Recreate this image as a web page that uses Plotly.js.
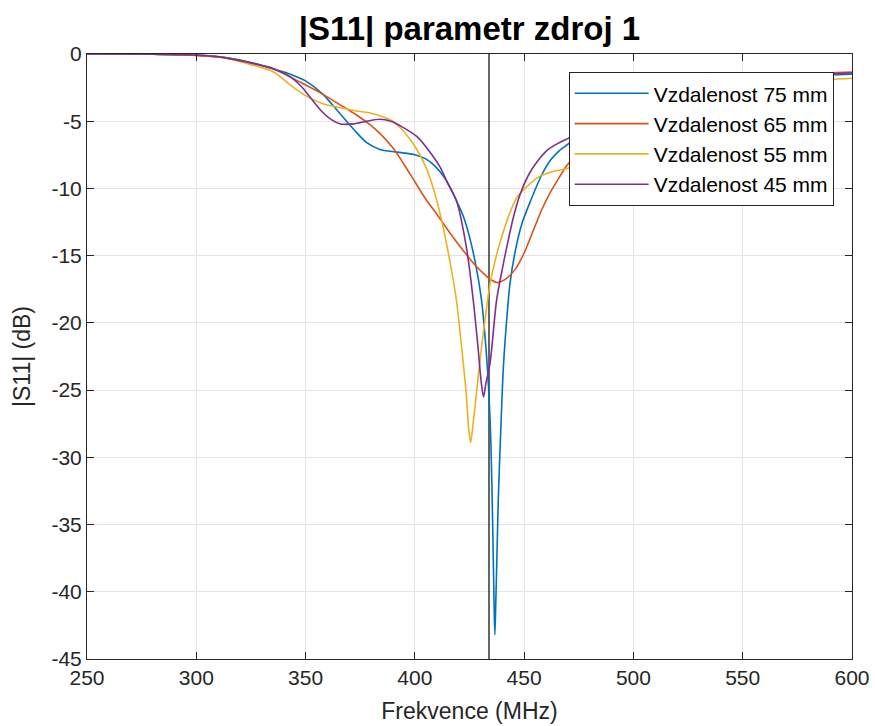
<!DOCTYPE html>
<html>
<head>
<meta charset="utf-8">
<script src="https://cdn.plot.ly/plotly-3.0.1.min.js"></script>
<style>html,body{margin:0;padding:0;background:#fff;}#chart{width:875px;height:726px;}</style>
</head>
<body>
<div id="chart"></div>
<script>
// Series names
const seriesNames = ["Vzdalenost 75 mm", "Vzdalenost 65 mm", "Vzdalenost 55 mm", "Vzdalenost 45 mm"];

// Vzdalenost 75 mm
const freq75 = [250,280,300,315,327,335,343,350,358,365,372,378,384,392,400,405,409,414,419,422,425,428,430.5,432.5,433.8,434.8,435.6,436.2,436.6,437,437.6,438.2,439.3,440.5,442,443.5,446,449,453,458,462,466,471,480,490,500,520,540,560,580,600];
const s11_75 = [0,-0.02,-0.08,-0.3,-0.7,-1.1,-1.5,-2.0,-3.0,-4.3,-5.6,-6.6,-7.1,-7.3,-7.5,-7.8,-8.3,-9.3,-10.9,-12.0,-13.6,-15.8,-18.3,-21.8,-25,-29,-35,-40.5,-43.2,-41,-37,-33,-28,-23.3,-19.8,-17.1,-14.6,-12.6,-10.9,-9.0,-7.9,-7.2,-6.6,-5.4,-4.5,-3.8,-2.8,-2.2,-1.8,-1.6,-1.5];

// Vzdalenost 65 mm
const freq65 = [250,280,300,312,323,335,343,350,358,366,373,379,384,390,395,400,405,410,416,422,427,430,434,437.5,441,446,450,454,458,462,466,470,480,490,500,520,540,560,580,600];
const s11_65 = [0,-0.02,-0.1,-0.25,-0.6,-1.1,-1.7,-2.3,-3.0,-3.8,-4.5,-5.2,-5.9,-7.0,-8.2,-9.5,-10.8,-11.9,-13.3,-14.6,-15.6,-16.1,-16.7,-17.0,-16.8,-16.0,-14.8,-13.2,-11.6,-10.3,-9.2,-8.2,-6.6,-5.4,-4.5,-3.2,-2.4,-1.8,-1.5,-1.35];

// Vzdalenost 55 mm
const freq55 = [250,280,300,312,323,335,343,350,358,366,372,380,386,390,394,398,402,405.5,409,412,416,419,421,423.5,424.7,425.5,426.3,428,430,431.3,434.4,437,439,443.5,447,451,457,464,470,480,490,500,520,540,560,580,600];
const s11_55 = [0,-0.02,-0.1,-0.25,-0.7,-1.3,-2.3,-3.1,-3.7,-4.0,-4.2,-4.4,-4.7,-5.0,-5.6,-6.4,-7.4,-8.6,-10.3,-12.2,-15.4,-18.3,-21.2,-25.3,-28,-28.9,-28,-25.5,-22.5,-20.8,-17.1,-15.2,-14.0,-11.8,-10.6,-9.9,-9.1,-8.7,-8.5,-7.9,-7.0,-6.0,-4.3,-3.1,-2.4,-2.0,-1.8];

// Vzdalenost 45 mm
const freq45 = [250,280,300,312,323,335,343,348,352,357,362,366,372,378,384,389,394,401,406,411.5,415,419,423.7,426.7,429,430.3,431.4,432.5,434.4,437.4,440,442,445,448,452,456,461,466,471,480,490,500,520,540,560,580,600];
const s11_45 = [0,-0.02,-0.08,-0.25,-0.6,-1.07,-1.7,-2.4,-3.2,-4.2,-4.9,-5.2,-5.2,-5.0,-4.85,-5.0,-5.4,-6.15,-7.1,-8.4,-9.6,-10.9,-14.5,-18.3,-22,-24.3,-25.5,-24.5,-23,-18.3,-16,-14.4,-12.2,-10.5,-9.0,-8.0,-7.1,-6.6,-6.2,-5.3,-4.5,-3.9,-2.9,-2.3,-1.9,-1.6,-1.4];

// Marker frequency (433.92 MHz) spanning the full y range
const markerFreq = [433.92, 433.92];
const markerLevel = [0, -45];

// Tick labels
const xTicks = [250,300,350,400,450,500,550,600];
const yTicks = [0,-5,-10,-15,-20,-25,-30,-35,-40,-45];

const colors = ["#0072BD", "#D95319", "#EDB120", "#7E2F8E"];
const xs = [freq75, freq65, freq55, freq45];
const ys = [s11_75, s11_65, s11_55, s11_45];

const traces = [];
traces.push({
  x: markerFreq, y: markerLevel, mode: "lines", showlegend: false,
  line: {color: "#000000", width: 1.2}, hoverinfo: "skip"
});
for (let i = 0; i < 4; i++) {
  traces.push({
    x: xs[i], y: ys[i], name: seriesNames[i], mode: "lines",
    line: {color: colors[i], width: 1.6, shape: "spline", smoothing: 0.8}
  });
}

const font = "Liberation Sans, Arial, sans-serif";
const axisCommon = {
  showline: true, mirror: "ticks", linecolor: "#262626", linewidth: 1,
  ticks: "inside", ticklen: 7, tickcolor: "#262626",
  showgrid: true, gridcolor: "#e3e3e3", gridwidth: 1,
  zeroline: false, tickfont: {family: font, size: 21, color: "#262626"}
};

const layout = {
  width: 875, height: 726,
  margin: {l: 87, r: 23, t: 54, b: 67},
  paper_bgcolor: "#ffffff", plot_bgcolor: "#ffffff",
  title: {
    text: "<b>|S11| parametr zdroj 1</b>",
    font: {family: font, size: 33, color: "#000000"},
    x: 0.5, xref: "paper", y: 1 - 28/726, yref: "container", yanchor: "middle"
  },
  xaxis: Object.assign({}, axisCommon, {
    range: [250, 600], tickvals: xTicks, ticktext: xTicks.map(String),
    title: {text: "Frekvence (MHz)", font: {family: font, size: 23, color: "#262626"}, standoff: 14}
  }),
  yaxis: Object.assign({}, axisCommon, {
    range: [-45, 0], tickvals: yTicks, ticktext: yTicks.map(String),
    title: {text: "|S11| (dB)", font: {family: font, size: 23, color: "#262626"}, standoff: 14}
  }),
  legend: {
    x: 0.976, xanchor: "right", y: 0.970, yanchor: "top",
    bgcolor: "#ffffff", bordercolor: "#262626", borderwidth: 1,
    font: {family: font, size: 21, color: "#000000"},
    itemwidth: 74, tracegroupgap: 0
  },
  showlegend: true
};

Plotly.newPlot("chart", traces, layout, {displayModeBar: false, staticPlot: true});
</script>
</body>
</html>
